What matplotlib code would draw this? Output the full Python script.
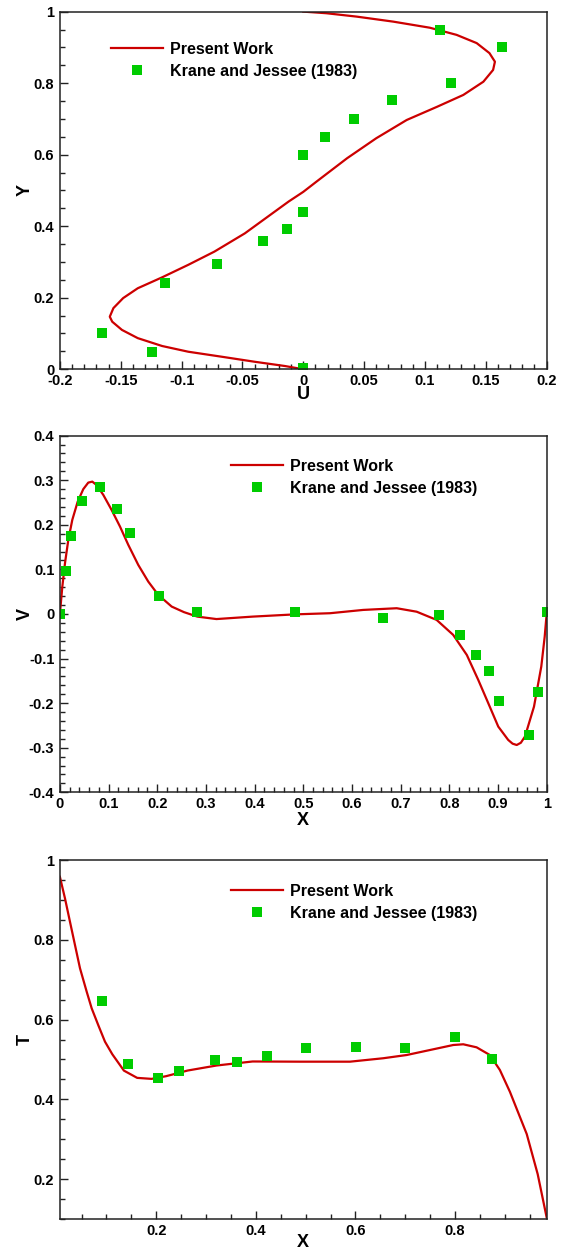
import matplotlib
matplotlib.use('Agg')
import matplotlib.pyplot as plt
from matplotlib.ticker import MultipleLocator, FuncFormatter

plt.rcParams['font.family'] = ['Liberation Sans', 'DejaVu Sans']
plt.rcParams['font.weight'] = 'bold'
plt.rcParams['axes.unicode_minus'] = False

RED = '#cc0000'
GREEN = '#00cc00'

# U velocity along the vertical centreline (u, y)
u_line = [0.0, -0.015, -0.040, -0.067, -0.0945, -0.116, -0.136, -0.149, -0.157, -0.159,
          -0.156, -0.148, -0.136, -0.116, -0.0945, -0.073, -0.048, -0.029, -0.012, 0.0,
          0.011, 0.036, 0.060, 0.085, 0.110, 0.1315, 0.148, 0.156, 0.1575, 0.153,
          0.1425, 0.126, 0.104, 0.074, 0.044, 0.019, 0.0]
y_line = [0.0, 0.009, 0.021, 0.035, 0.049, 0.065, 0.087, 0.110, 0.133, 0.147,
          0.171, 0.199, 0.2265, 0.257, 0.292, 0.329, 0.380, 0.427, 0.469, 0.496,
          0.525, 0.590, 0.646, 0.697, 0.734, 0.767, 0.804, 0.837, 0.860, 0.884,
          0.912, 0.935, 0.955, 0.972, 0.986, 0.9955, 1.0]
u_exp = [0.0, -0.124, -0.165, -0.114, -0.071, -0.033, -0.013, 0.0, 0.0, 0.0175,
         0.0417, 0.0733, 0.121, 0.163, 0.112]
y_exp = [0.003, 0.047, 0.100, 0.242, 0.293, 0.359, 0.393, 0.439, 0.599, 0.650,
         0.700, 0.753, 0.800, 0.902, 0.950]

# V velocity along the horizontal centreline (x, v)
x_v_line = [0.0, 0.005, 0.0105, 0.0173, 0.0255, 0.0366, 0.0481, 0.0583, 0.0666, 0.0756,
            0.0892, 0.1064, 0.1235, 0.1405, 0.161, 0.1816, 0.2021, 0.2297, 0.255, 0.2824,
            0.3217, 0.396, 0.4826, 0.555, 0.623, 0.692, 0.733, 0.774, 0.808, 0.836,
            0.8595, 0.880, 0.9006, 0.921, 0.930, 0.9385, 0.947, 0.9555, 0.974, 0.989,
            0.996, 1.0]
v_line = [0.0, 0.061, 0.114, 0.166, 0.211, 0.252, 0.280, 0.2946, 0.2968, 0.289,
          0.267, 0.233, 0.196, 0.155, 0.110, 0.0725, 0.0427, 0.0165, 0.004, -0.006,
          -0.0115, -0.006, -0.001, 0.0016, 0.009, 0.0128, 0.005, -0.0134, -0.047, -0.092,
          -0.148, -0.200, -0.2527, -0.2826, -0.291, -0.294, -0.289, -0.275, -0.208, -0.118,
          -0.051, 0.0]
x_v_exp = [0.0, 0.012, 0.022, 0.045, 0.082, 0.118, 0.144, 0.203, 0.282, 0.483,
           0.664, 0.779, 0.822, 0.854, 0.881, 0.903, 0.964, 0.9815, 1.0]
v_exp = [0.0, 0.097, 0.174, 0.2535, 0.284, 0.236, 0.182, 0.040, 0.004, 0.004,
         -0.008, -0.002, -0.047, -0.091, -0.127, -0.196, -0.272, -0.176, 0.004]

# temperature along the horizontal centreline (x, T)
x_t_line = [0.0064, 0.0166, 0.0267, 0.0367, 0.0468, 0.0602, 0.0703, 0.0835, 0.097, 0.1117,
            0.135, 0.1616, 0.1906, 0.2196, 0.263, 0.321, 0.3935, 0.4885, 0.589, 0.6558,
            0.7028, 0.7562, 0.7964, 0.8165, 0.8433, 0.870, 0.8901, 0.9102, 0.944, 0.966,
            0.984]
t_line = [0.958, 0.904, 0.845, 0.787, 0.7285, 0.670, 0.628, 0.586, 0.5445, 0.513,
          0.472, 0.4538, 0.4513, 0.458, 0.4722, 0.4848, 0.4949, 0.4944, 0.4944, 0.503,
          0.5111, 0.5254, 0.5362, 0.538, 0.5304, 0.5111, 0.4735, 0.419, 0.313, 0.2126,
          0.104]
x_t_exp = [0.0906, 0.1435, 0.2029, 0.2464, 0.3174, 0.3623, 0.4217, 0.5007, 0.6007, 0.6993,
           0.8007, 0.8739]
t_exp = [0.6457, 0.4882, 0.453, 0.4706, 0.4974, 0.494, 0.5074, 0.5284, 0.5309, 0.5292,
         0.556, 0.4999]

labels = ['Present Work', 'Krane and Jessee (1983)']


def fmt(v, pos):
    v = round(v, 6)
    if v == 0:
        return '0'
    return '%g' % v


def style(ax, xmaj, xmin, ymaj, ymin, xlabel, ylabel, xlab_y, leg_xy):
    ax.xaxis.set_major_locator(MultipleLocator(xmaj))
    ax.xaxis.set_minor_locator(MultipleLocator(xmin))
    ax.yaxis.set_major_locator(MultipleLocator(ymaj))
    ax.yaxis.set_minor_locator(MultipleLocator(ymin))
    ax.xaxis.set_major_formatter(FuncFormatter(fmt))
    ax.yaxis.set_major_formatter(FuncFormatter(fmt))
    ax.tick_params(which='both', direction='in', top=False, right=False,
                   width=1.0, color='#222222')
    ax.tick_params(which='major', length=6, labelsize=10.5)
    ax.tick_params(which='minor', length=3.5)
    ax.tick_params(axis='x', which='major', pad=3.5)
    ax.tick_params(axis='y', which='major', pad=4)
    for s in ax.spines.values():
        s.set_linewidth(1.1)
        s.set_color('#222222')
    ax.set_xlabel(xlabel, fontsize=13, fontweight='bold')
    ax.set_ylabel(ylabel, fontsize=13, fontweight='bold')
    ax.xaxis.set_label_coords(0.5, xlab_y)
    ax.yaxis.set_label_coords(-0.053, 0.5)
    ax.legend(labels, loc='upper left', bbox_to_anchor=leg_xy, frameon=False,
              fontsize=11.5, handlelength=3.25, handletextpad=0.45,
              labelspacing=0.42, borderpad=0, borderaxespad=0)


fig = plt.figure(figsize=(5.66, 12.5), dpi=100)

ax1 = fig.add_axes([0.1058, 0.7046, 0.860, 0.2861])
ax1.plot(u_line, y_line, color=RED, lw=1.6)
ax1.plot(u_exp, y_exp, 's', color=GREEN, ms=7, mew=0)
ax1.set_xlim(-0.2, 0.2)
ax1.set_ylim(0, 1)
style(ax1, 0.05, 0.01, 0.2, 0.05, 'U', 'Y', -0.048, (0.1046, 0.915))

ax2 = fig.add_axes([0.1058, 0.3662, 0.860, 0.2853])
ax2.plot(x_v_line, v_line, color=RED, lw=1.6)
ax2.plot(x_v_exp, v_exp, 's', color=GREEN, ms=7, mew=0)
ax2.set_xlim(0, 1)
ax2.set_ylim(-0.4, 0.4)
style(ax2, 0.1, 0.02, 0.1, 0.02, 'X', 'V', -0.055, (0.3515, 0.935))

ax3 = fig.add_axes([0.1058, 0.0248, 0.860, 0.2872])
ax3.plot(x_t_line, t_line, color=RED, lw=1.6)
ax3.plot(x_t_exp, t_exp, 's', color=GREEN, ms=7, mew=0)
ax3.set_xlim(0.0064, 0.984)
ax3.set_ylim(0.1, 1.0)
style(ax3, 0.2, 0.05, 0.2, 0.05, 'X', 'T', -0.042, (0.3515, 0.933))

fig.savefig('out.png', dpi=100)
